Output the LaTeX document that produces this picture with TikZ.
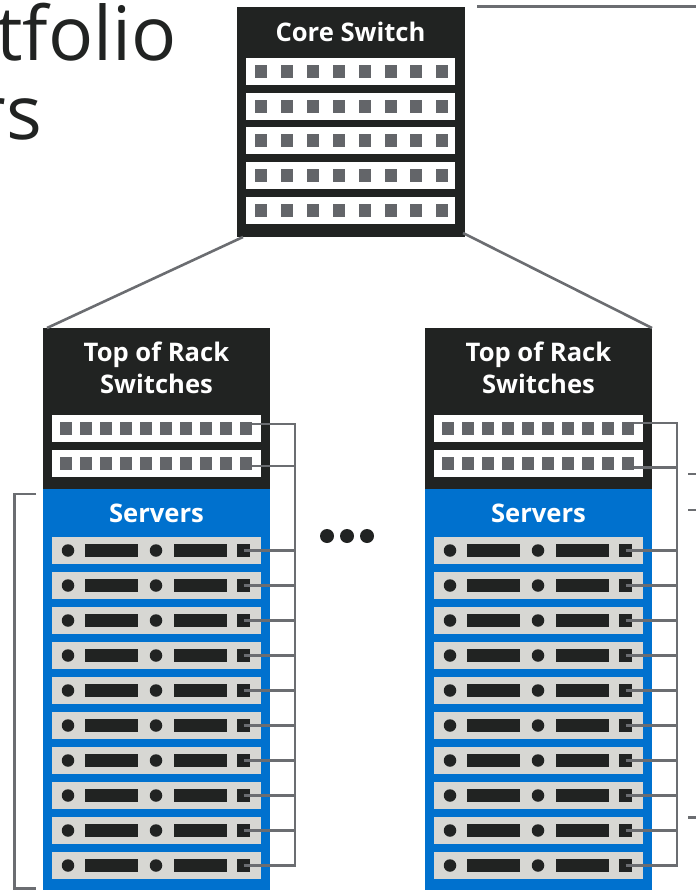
\documentclass[tikz,border=0pt]{standalone}
\usepackage{fontspec}
\setmainfont{Open Sans}
\usepackage{tikz}
\definecolor{swblack}{HTML}{212322}
\definecolor{srvblue}{HTML}{0071CE}
\definecolor{srvgray}{HTML}{D7D7D3}
\definecolor{portgray}{HTML}{636569}
\tikzset{
	boxnode/.style={rectangle, inner sep=0pt, outer sep=0pt, minimum width=#1},
	blackbox/.style={boxnode=#1, fill=swblack},
	bluebox/.style={boxnode=#1, fill=srvblue},
	rownode/.style={boxnode=209, minimum height=27, fill=#1},
	portnode/.style={boxnode=12, minimum height=13, fill=portgray},
	darkbar/.style={boxnode=#1, minimum height=13, fill=swblack},
	ledot/.style={circle, inner sep=0pt, outer sep=0pt, minimum size=#1, fill=swblack},
	titlenode/.style={text=white, font=\fontsize{25.6}{32}\selectfont\bfseries, align=center, inner sep=0pt},
	bigtext/.style={text=swblack, font=\fontsize{75}{85}\selectfont, inner sep=0pt, anchor=base east},
	wire/.style={draw=portgray!95!white, line width=2.6pt},
}
\begin{document}
\begin{tikzpicture}[x=1pt, y=-1pt]
	\useasboundingbox (0,0) rectangle (696,890);
	\begin{scope}
		\clip (0,0) rectangle (696,890);
		
		\node[bigtext] (headone) at (177,60.5) {tfolio};
		\node[bigtext] (headtwo) at (42,140) {rs};
		
		% core switch
		\node[blackbox=228, minimum height=230] (core) at (351,122) {};
		\node[titlenode] (coretitle) at (350.5,32) {Core Switch};
		\foreach \i in {0,...,4}{
			\node[rownode=white] (corerow\i) at (350.5,71.5+34.75*\i) {};
			\foreach \j in {0,...,7}
				\node[portnode] (coreport\i\j) at (261+25.9*\j,71.5+34.75*\i) {};
		}
		
		% racks
		\foreach \rx/\rk/\ya/\yb in {43/l/424/466,425/r/423/467.5}{
			\node[blackbox=227, minimum height=161] (rack\rk) at (\rx+113.5,408.5) {};
			\node[bluebox=227, minimum height=401] (srv\rk) at (\rx+113.5,689.5) {};
			\node[titlenode] (racktitle\rk) at (\rx+113.5,368) {Top of Rack\\Switches};
			\node[titlenode] (srvtitle\rk) at (\rx+113.5,513.5) {Servers};
			
			\foreach \i in {0,1}{
				\node[rownode=white] (tor\rk\i) at (\rx+113.5,428.5+35*\i) {};
				\foreach \j in {0,...,9}
					\node[portnode] (torport\rk\i\j) at (\rx+23+20*\j,428.5+35*\i) {};
			}
			
			\foreach \i in {0,...,9}{
				\node[rownode=srvgray] (row\rk\i) at (\rx+113.5,550.5+35*\i) {};
				\node[ledot=12.5] (leda\rk\i) at (\rx+25,550.5+35*\i) {};
				\node[darkbar=53] (bara\rk\i) at (\rx+68.5,550.5+35*\i) {};
				\node[ledot=12.5] (ledb\rk\i) at (\rx+113,550.5+35*\i) {};
				\node[darkbar=53] (barb\rk\i) at (\rx+157.5,550.5+35*\i) {};
				\node[darkbar=13] (nic\rk\i) at (\rx+200.5,550.5+35*\i) {};
				\coordinate (bus\rk\i) at (\rx+252,550.5+35*\i);
				\draw[wire] (nic\rk\i.center) -- (bus\rk\i);
			}
			
			\coordinate (bustop\rk) at (\rx+252,\ya);
			\coordinate (busmid\rk) at (\rx+252,\yb);
			\coordinate (tora\rk) at (\rx+209,\ya);
			\coordinate (torb\rk) at (\rx+209,\yb);
			\draw[wire] (tora\rk) -- (bustop\rk) -- (bus\rk9) -- ++(-1.2,0);
			\draw[wire] (torb\rk) -- (busmid\rk);
		}
		
		% uplinks
		\coordinate (corel) at (243,237);
		\coordinate (corer) at (463,233);
		\coordinate (rackltop) at (47,328);
		\coordinate (rackrtop) at (652,328);
		\draw[wire] (corel) -- (rackltop);
		\draw[wire] (corer) -- (rackrtop);
		
		% dots between racks
		\foreach \i in {0,1,2}
			\node[ledot=14] (gapdot\i) at (327+20*\i,536) {};
		
		% bracket and cut off lines
		\coordinate (bracka) at (36,494);
		\coordinate (brackb) at (14.5,494);
		\coordinate (brackc) at (14.5,888.5);
		\coordinate (brackd) at (36,888.5);
		\draw[wire] (bracka) -- (brackb) -- (brackc) -- (brackd);
		
		\coordinate (topa) at (477,6.5);
		\coordinate (topb) at (696,6.5);
		\draw[wire] (topa) -- (topb);
		
		\foreach \y/\n in {474/a,510/b,817.5/c}{
			\coordinate (ticks\n) at (688,\y);
			\coordinate (tickt\n) at (696,\y);
			\draw[wire] (ticks\n) -- (tickt\n);
		}
	\end{scope}
\end{tikzpicture}
\end{document}
